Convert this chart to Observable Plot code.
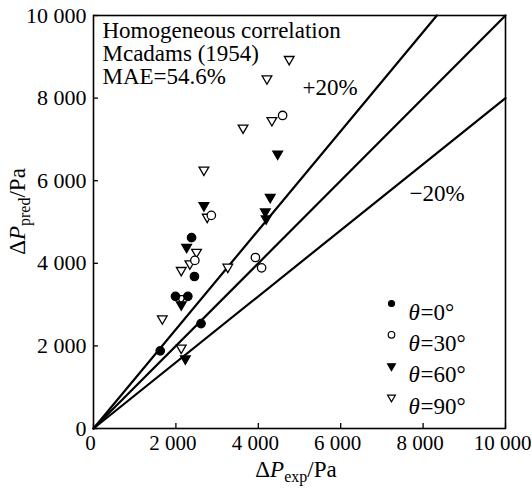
<!DOCTYPE html>
<html><head><meta charset="utf-8">
<script src="https://cdn.jsdelivr.net/npm/d3@7"></script>
<script src="https://cdn.jsdelivr.net/npm/@observablehq/plot@0.6"></script>
<style>body{margin:0;background:#fff} svg text{font-family:"Liberation Serif","DejaVu Serif",serif !important;}</style>
</head><body><div id="chart"></div>
<script>
// ---- data (Pa): [experimental, predicted] ----
const theta0 = [[1620,1880],[1990,3200],[2290,3200],[2450,3680],[2380,4620],[2610,2540]];
const theta30 = [[2460,4070],[2860,5160],[3930,4140],[4080,3890],[4590,7580]];
const theta60 = [[4470,6650],[2680,5400],[4290,5600],[4170,5250],[4190,5080],[2260,4390],[2130,3000],[2230,1690]];
const theta90 = [[4750,8940],[4210,8470],[4330,7460],[3630,7280],[2680,6260],[2760,5120],[2500,4270],[2340,3990],[2130,3830],[3260,3910],[1670,2660],[2130,1950],[2130,3150]];
const ratios = [1.2, 1.0, 0.8];
const lineLabels = ["+20%", "\u221220%"];
const annotation = ["Homogeneous correlation", "Mcadams (1954)", "MAE=54.6%"];
const legendAngles = ["0", "30", "60", "90"];
const xTicks = [0, 2000, 4000, 6000, 8000, 10000];
const yTicks = [0, 2000, 4000, 6000, 8000, 10000];

// ---- layout ----
const W = 532, H = 493, mL = 93, mR = 27, mT = 15, mB = 65;
const pw = W - mL - mR, ph = H - mT - mB;
const serif = "Liberation Serif";
const fs = 22, fsX = 21, fsT = 23;
const fmt = d => d3.format(",")(d).replace(/,/g, " ");
const rows = arr => arr.map(([x, y]) => ({x, y}));

const styles = [
  {data: theta90, symbol: "triangle", rotate: 180, r: 3.6, fill: "white", stroke: "black"},
  {data: theta30, symbol: "circle", rotate: 0, r: 4.2, fill: "white", stroke: "black"},
  {data: theta60, symbol: "triangle", rotate: 180, r: 3.6, fill: "black", stroke: "black"},
  {data: theta0, symbol: "circle", rotate: 0, r: 4.2, fill: "black", stroke: "black"}
];
const legendStyles = [
  {symbol: "circle", rotate: 0, r: 3.0, fill: "black"},
  {symbol: "circle", rotate: 0, r: 3.3, fill: "white"},
  {symbol: "triangle", rotate: 180, r: 2.9, fill: "black"},
  {symbol: "triangle", rotate: 180, r: 2.9, fill: "white"}
];

const refLines = ratios.flatMap(k => [
  {x: 0, y: 0, k},
  {x: Math.min(10000, 10000 / k), y: Math.min(10000, 10000 * k), k}
]);

const marks = [
  Plot.line(refLines, {x: "x", y: "y", z: "k", stroke: "black", strokeWidth: 2.2}),
  ...styles.map(s => Plot.dot(rows(s.data), {x: "x", y: "y", symbol: s.symbol, rotate: s.rotate, r: s.r,
    fill: s.fill, stroke: s.stroke, strokeWidth: 1.3})),
  Plot.ruleX(xTicks, {x: d => d, insetTop: ph - 5, strokeWidth: 1.3}),
  Plot.ruleY(yTicks, {y: d => d, insetRight: pw - 5, strokeWidth: 1.3}),
  Plot.frame({stroke: "black", strokeWidth: 1.6}),
  Plot.axisX({ticks: xTicks, tickFormat: fmt, tickSize: 0, tickPadding: 7, dx: -3, label: null, fontSize: fsX, fontFamily: serif}),
  Plot.axisY({ticks: yTicks, tickFormat: fmt, tickSize: 0, tickPadding: 7, label: null, fontSize: fs, fontFamily: serif}),
  Plot.text([annotation.join("\n")], {frameAnchor: "top-left", dx: 9, dy: 6, text: d => d,
    textAnchor: "start", lineAnchor: "top", lineHeight: 1.0, fontSize: fsT, fontFamily: serif}),
  Plot.text([lineLabels[0]], {frameAnchor: "top-left", dx: 209, dy: 63, text: d => d, textAnchor: "start", fontSize: fsT, fontFamily: serif}),
  Plot.text([lineLabels[1]], {frameAnchor: "top-left", dx: 316, dy: 169, text: d => d, textAnchor: "start", fontSize: fsT, fontFamily: serif})
];
legendAngles.forEach((a, i) => {
  const s = legendStyles[i];
  const dy = 288 + i * 31.3;
  marks.push(Plot.dot([a], {frameAnchor: "top-left", dx: 298, dy, symbol: s.symbol, rotate: s.rotate, r: s.r,
    fill: s.fill, stroke: "black", strokeWidth: 1.2}));
  marks.push(Plot.text([a], {frameAnchor: "top-left", dx: 315, dy, text: () => "\u03b8", fontStyle: "italic", textAnchor: "start", fontSize: fsT, fontFamily: serif}));
  marks.push(Plot.text([a], {frameAnchor: "top-left", dx: 327, dy, text: d => "=" + d + "\u00b0", textAnchor: "start", fontSize: fsT, fontFamily: serif}));
});

const plot = Plot.plot({
  width: W, height: H,
  marginLeft: mL, marginRight: mR, marginTop: mT, marginBottom: mB,
  x: {domain: [0, 10000]},
  y: {domain: [0, 10000]},
  marks
});

const svg = d3.select(plot).attr("font-family", serif).style("font-family", serif);
const xl = svg.append("text").attr("x", 296).attr("y", 477).attr("text-anchor", "middle")
  .attr("font-size", fsT).attr("font-family", serif).attr("fill", "black");
xl.append("tspan").text("\u0394");
xl.append("tspan").attr("font-style", "italic").text("P");
xl.append("tspan").attr("font-size", 16).attr("dy", 5).text("exp");
xl.append("tspan").attr("dy", -5).text("/Pa");

const yl = svg.append("text").attr("transform", `translate(25,${mT + ph / 2 - 10}) rotate(-90)`)
  .attr("text-anchor", "middle").attr("font-size", fsT).attr("font-family", serif).attr("fill", "black");
yl.append("tspan").text("\u0394");
yl.append("tspan").attr("font-style", "italic").text("P");
yl.append("tspan").attr("font-size", 16).attr("dy", 5).text("pred");
yl.append("tspan").attr("dy", -5).text("/Pa");

document.getElementById("chart").append(plot);
</script>
</body></html>
